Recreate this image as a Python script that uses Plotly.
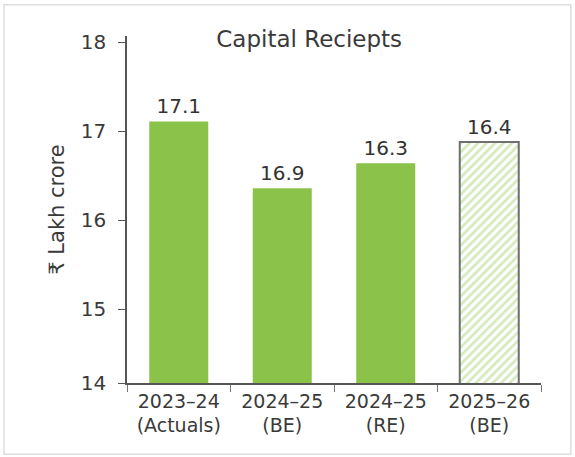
import plotly.graph_objects as go

categories = ["2023–24<br>(Actuals)", "2024–25<br>(BE)", "2024–25<br>(RE)", "2025–26<br>(BE)"]
bar_values = [17.11, 16.36, 16.64, 16.88]
label_text = ["17.1", "16.9", "16.3", "16.4"]
tick_vals = [14.17, 15, 16, 17, 18]
tick_text = ["14", "15", "16", "17", "18"]

FONT = "DejaVu Sans"
solid = "#8bc34a"
fig = go.Figure()
fig.add_trace(go.Bar(
    x=categories[:3], y=bar_values[:3], text=label_text[:3],
    textposition="outside", marker=dict(color=solid, line=dict(width=0)),
    textfont=dict(size=20, color="#333333", family=FONT), cliponaxis=False,
    width=0.57,
))
fig.add_trace(go.Bar(
    x=categories[3:], y=bar_values[3:], text=label_text[3:],
    textposition="outside",
    marker=dict(color="white", line=dict(width=2, color="#6f6f6f"),
                pattern=dict(shape="/", fgcolor="#a9d67a", bgcolor="white", size=6, solidity=0.45)),
    textfont=dict(size=20, color="#333333", family=FONT), cliponaxis=False, width=0.57,
))
fig.update_layout(
    width=575, height=457,
    margin=dict(l=127, r=34, t=36, b=74),
    paper_bgcolor="white", plot_bgcolor="white",
    showlegend=False, barmode="overlay",
    font=dict(family=FONT, color="#3a3a3a"),
    title=dict(text="Capital Reciepts", xref="paper", x=0.44, xanchor="center",
               yref="container", y=0.915, yanchor="middle",
               font=dict(size=23, color="#3a3a3a", family=FONT)),
    xaxis=dict(categoryorder="array", categoryarray=categories, showline=True, linecolor="#555",
               linewidth=1.5, ticks="outside", tickson="boundaries", ticklen=7, tickcolor="#777",
               tickfont=dict(size=19, color="#3a3a3a"), showgrid=False, range=[-0.5, 3.5]),
    yaxis=dict(range=[14.17, 18.07], tickvals=tick_vals, ticktext=tick_text, showline=True,
               linecolor="#555", linewidth=1.5, ticks="outside", ticklen=7, tickcolor="#555",
               ticklabelstandoff=8,
               tickfont=dict(size=20, color="#3a3a3a"), showgrid=False, zeroline=False,
               title=dict(text="₹ Lakh crore", font=dict(size=21, color="#3a3a3a"), standoff=10)),
    shapes=[dict(type="rect", xref="paper", yref="paper", x0=-0.297, x1=1.072, y0=-0.205, y1=1.09,
                 line=dict(color="#dddddd", width=1.5))],
)
fig.write_html("out.html")
